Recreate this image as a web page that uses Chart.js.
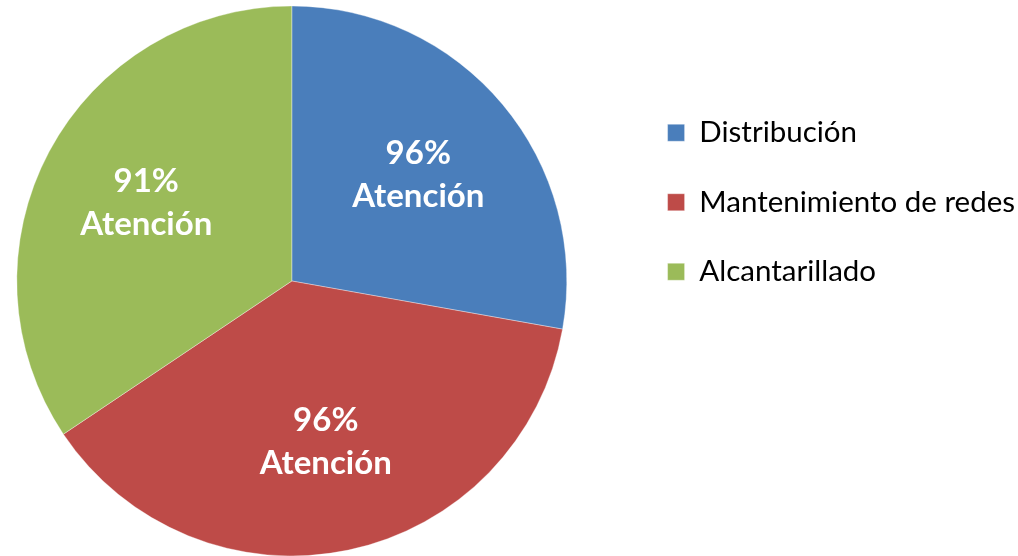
<!DOCTYPE html>
<html lang="es">
  <head>
    <meta charset="UTF-8" />
    <title>Atención por área</title>
    <script src="https://cdn.jsdelivr.net/npm/chart.js@4"></script>
    <style>
      html, body { margin: 0; padding: 0; background: #fff; overflow: hidden; }
      /* el lienzo se corre a la izquierda para que la torta quede donde en el original */
      #wrap { position: relative; left: -44px; width: 1069px; height: 556px; }
    </style>
  </head>
  <body>
    <div id="wrap"><canvas id="pieChart"></canvas></div>
    <script>
      // datos
      const areas = ["Distribución", "Mantenimiento de redes", "Alcantarillado"];
      const shares = [27.8, 37.8, 34.4];
      const atencion = ["96%", "96%", "91%"];
      const colores = ["#4a7ebb", "#be4b48", "#9bbb59"];

      // etiquetas blancas dentro de cada porcion
      const sliceLabels = {
        id: "sliceLabels",
        afterDatasetsDraw(chart) {
          const ctx = chart.ctx;
          const arcs = chart.getDatasetMeta(0).data;
          ctx.save();
          ctx.fillStyle = "#fff";
          ctx.textAlign = "center";
          ctx.textBaseline = "middle";
          ctx.font = "bold 33px Lato";
          arcs.forEach(function (arc, i) {
            const p = arc.getProps(["x", "y", "startAngle", "endAngle", "outerRadius"], true);
            const mid = (p.startAngle + p.endAngle) / 2;
            const r = p.outerRadius * 0.6;
            const cx = p.x + Math.cos(mid) * r;
            const cy = p.y + Math.sin(mid) * r;
            ctx.fillText(atencion[i], cx, cy - 22);
            ctx.fillText("Atención", cx, cy + 21);
          });
          ctx.restore();
        },
      };

      const ctx = document.querySelector("#pieChart").getContext("2d");
      const myChart = new Chart(ctx, {
        type: "pie",
        data: {
          labels: areas,
          datasets: [
            {
              data: shares,
              backgroundColor: colores,
              borderColor: "rgba(255,255,255,0.35)",
              borderWidth: 1,
              radius: 275,
            },
          ],
        },
        options: {
          responsive: true,
          maintainAspectRatio: false,
          animation: false,
          layout: { padding: { left: 0, right: 0, top: 6, bottom: 0 } },
          plugins: {
            tooltip: { enabled: false },
            legend: {
              position: "right",
              align: "start",
              title: { display: true, text: "", font: { size: 10 }, padding: { top: 60, bottom: 0 } },
              labels: {
                boxWidth: 17,
                boxHeight: 17,
                padding: 40,
                color: "#000",
                font: { family: "Lato", size: 29.5 },
              },
            },
          },
        },
        plugins: [sliceLabels],
      });
    </script>
  </body>
</html>
